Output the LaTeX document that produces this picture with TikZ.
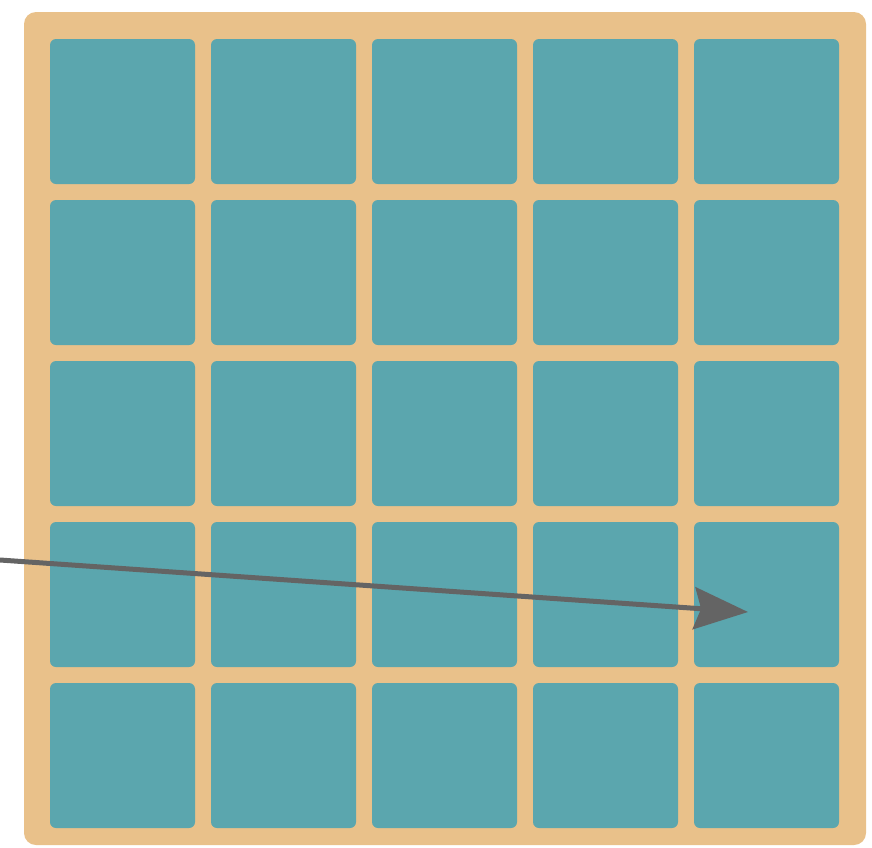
\documentclass[tikz,border=0pt]{standalone}
\usetikzlibrary{arrows.meta}
\definecolor{cellc}{RGB}{91,166,174}
\definecolor{framec}{RGB}{233,193,138}
\definecolor{arrowc}{RGB}{100,100,100}
\begin{document}
\begin{tikzpicture}[x=1pt,y=-1pt,
  frame/.style={fill=framec,draw=none,rounded corners=12pt},
  cell/.style={fill=cellc,draw=none,rounded corners=6pt},
  pointer/.style={draw=arrowc,line width=5pt,-{Stealth[length=54pt,width=42pt,inset=7pt,fill=arrowc]}}]
\useasboundingbox (0,0) rectangle (872,847);
\path[frame] (24,12) rectangle (866,845);
\foreach \i in {0,...,4}{
  \foreach \j in {0,...,4}{
    \path[cell] ({50+161*\i},{39+161*\j}) rectangle ({195+161*\i},{184+161*\j});
    \coordinate (c\i\j) at ({122.5+161*\i},{111.5+161*\j});
  }
}
\coordinate (s) at (0,560);
\coordinate (t) at (748,612);
\draw[pointer] (s) -- (t);
\end{tikzpicture}
\end{document}
